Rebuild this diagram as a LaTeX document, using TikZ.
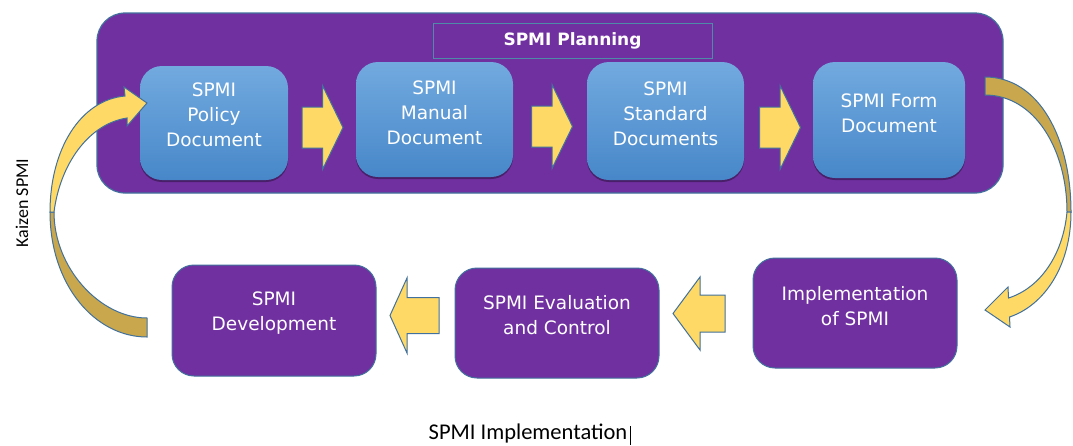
\documentclass[tikz,border=0pt]{standalone}
\usepackage{fontspec}
\setmainfont{DejaVu Sans}
\newfontfamily\lblfont{Carlito}
\usetikzlibrary{shadows}
\definecolor{purp}{HTML}{7030A0}
\definecolor{edgec}{HTML}{41719C}
\definecolor{hdredge}{HTML}{4E8BA8}
\definecolor{yel}{HTML}{FFD966}
\definecolor{goldd}{HTML}{C9A74D}
\definecolor{btop}{HTML}{72AADF}
\definecolor{bbot}{HTML}{4787C9}
\begin{document}
\begin{tikzpicture}[x=1pt,y=-1pt,
  panel/.style={draw=edgec, line width=1.2pt, fill=purp, rounded corners=28pt, inner sep=0pt},
  bluebox/.style={rounded corners=22pt, top color=btop, bottom color=bbot, draw=none, inner sep=0pt,
     drop shadow={shadow xshift=0pt, shadow yshift=-2pt, opacity=0.35, fill=black}},
  purpbox/.style={rounded corners=22pt, fill=purp, draw=edgec, line width=1pt, inner sep=0pt},
  boxtext/.style={text=white, align=center, font=\fontsize{18.5}{25}\selectfont, inner sep=0pt},
  blk/.style={fill=yel, draw=edgec, line width=1pt, line join=miter},
  blkd/.style={fill=goldd, draw=edgec, line width=1pt},
  pics/rblk/.style={code={\draw[blk] (-20.5,-20.5) -- (0,-20.5) -- (0,-42) -- (20.5,0) -- (0,42) -- (0,20.5) -- (-20.5,20.5) -- cycle;}}
]
\useasboundingbox (0,0) rectangle (1073,445);
\fill[white] (0,0) rectangle (1073,445);

% planning panel
\node[panel, minimum width=906, minimum height=180] (panel) at (550,103) {};
\node[draw=hdredge, line width=1pt, minimum width=279, minimum height=35, inner sep=0pt,
      font=\bfseries\fontsize{17}{17}\selectfont, text=white] (hdr) at (572.5,40.5) {SPMI Planning};

% blue document boxes
\node[bluebox, minimum width=148, minimum height=114] (b1) at (214,123) {};
\node[bluebox, minimum width=157, minimum height=115] (b2) at (434.5,119.5) {};
\node[bluebox, minimum width=157, minimum height=118] (b3) at (665.5,121) {};
\node[bluebox, minimum width=152, minimum height=116] (b4) at (889,120) {};
\node[boxtext] (t1) at ([yshift=8pt]b1.center) {SPMI\\Policy\\Document};
\node[boxtext] (t2) at ([yshift=7pt]b2.center) {SPMI\\Manual\\Document};
\node[boxtext] (t3) at ([yshift=7pt]b3.center) {SPMI\\Standard\\Documents};
\node[boxtext] (t4) at ([yshift=7pt]b4.center) {SPMI Form\\Document};

% right block arrows
\pic at (322.5,127.5) {rblk};
\pic at (552,126.5) {rblk};
\pic at (780,127.5) {rblk};

% bottom purple boxes
\node[purpbox, minimum width=204, minimum height=111] (dev) at (274,320.5) {};
\node[purpbox, minimum width=204, minimum height=110] (eval) at (557,323) {};
\node[purpbox, minimum width=204, minimum height=110] (impl) at (855,313) {};
\node[boxtext] (td) at ([yshift=7pt]dev.center) {SPMI\\Development};
\node[boxtext] (te) at ([yshift=7.5pt]eval.center) {SPMI Evaluation\\and Control};
\node[boxtext] (ti) at ([yshift=6.5pt]impl.center) {Implementation\\of SPMI};

% left block arrows
\draw[blk] (439,297.5) -- (407,297.5) -- (407,278) -- (390,315.5) -- (407,353) -- (407,333.5) -- (439,333.5) -- cycle;
\draw[blk] (725,295) -- (700,295) -- (700,277) -- (673,313.5) -- (700,350) -- (700,332) -- (725,332) -- cycle;

% left curved arrow (Kaizen loop)
\draw[blkd] (147,337) .. controls (95,337) and (50,285) .. (50,212)
   -- (54,212) .. controls (54,268) and (100,318) .. (147,318) -- cycle;
\draw[blk] (50,212) .. controls (50,150) and (80,100) .. (125,96)
   -- (124,87) -- (147,103) -- (127,126) -- (127,118)
   .. controls (88,124) and (60,165) .. (54,212) -- cycle;

% right curved arrow
\draw[blkd] (985,77) .. controls (1040,77) and (1071,140) .. (1071,212)
   -- (1067,212) .. controls (1067,150) and (1035,95) .. (985,95) -- cycle;
\draw[blk] (1071,212) .. controls (1071,265) and (1045,305) .. (1009.5,317)
   -- (1010,327) -- (985,310) -- (1008,287) -- (1008.5,298)
   .. controls (1040,288) and (1063,255) .. (1067,212) -- cycle;

% labels
\node[rotate=90, inner sep=0pt, font=\lblfont\fontsize{18}{18}\selectfont] (kz) at (22,203) {Kaizen SPMI};
\node[inner sep=0pt, font=\lblfont\fontsize{22.5}{22.5}\selectfont] (impllbl) at (528,433.5) {SPMI Implementation};
\coordinate (cur) at ([xshift=3pt]impllbl.east);
\draw[line width=0.8pt] (cur |- 0,426) -- (cur |- 0,445);
\end{tikzpicture}
\end{document}
